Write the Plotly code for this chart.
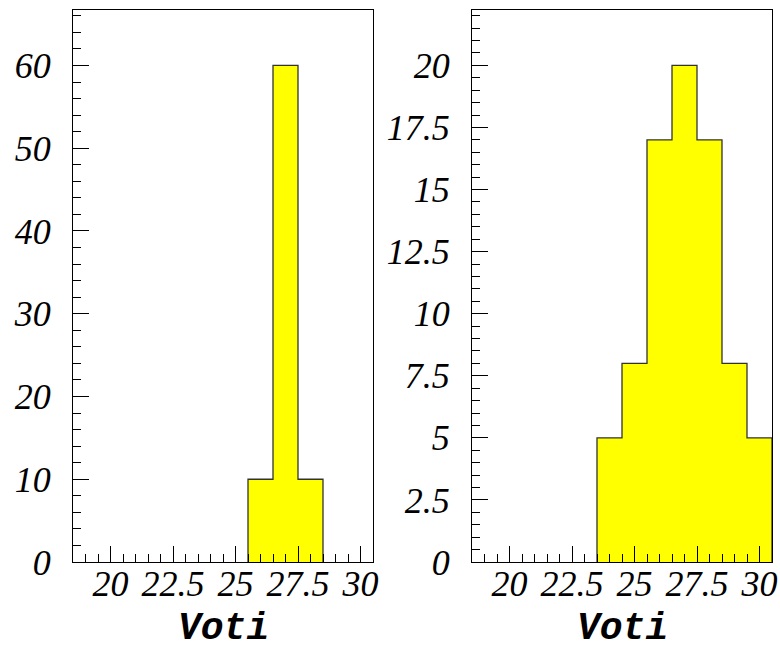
import plotly.graph_objects as go
from plotly.subplots import make_subplots

# Histogram data (bins of width 1)
left_bin_lows = [25.5, 26.5, 27.5]
left_counts = [10, 60, 10]
right_bin_lows = [23.5, 24.5, 25.5, 26.5, 27.5, 28.5, 29.5]
right_counts = [5, 8, 17, 20, 17, 8, 5]
bin_width = 1.0
x_title = "Voti"

W, H = 780, 650

def px_x(p):
    return p / W

def px_y(p):
    return (H - p) / H

fig = make_subplots(rows=1, cols=2)

def step_trace(lows, counts):
    xs = [lows[0]] + list(lows) + [lows[-1] + bin_width]
    ys = [0] + list(counts) + [0]
    return go.Scatter(x=xs, y=ys, mode="lines", line_shape="hv",
                      line=dict(color="#333333", width=1.3),
                      fill="tozeroy", fillcolor="#ffff00",
                      showlegend=False, hoverinfo="skip")

fig.add_trace(step_trace(left_bin_lows, left_counts), row=1, col=1)
fig.add_trace(step_trace(right_bin_lows, right_counts), row=1, col=2)

tickfont = dict(family="Liberation Serif", size=36, color="black", style="italic")
common_axis = dict(showgrid=False, zeroline=False, showline=True, mirror=True,
                   linecolor="black", linewidth=1.2, ticks="inside",
                   tickcolor="black", tickwidth=1.2, ticklen=16,
                   tickfont=tickfont, automargin=False)

fig.update_xaxes(**common_axis, range=[18.5, 30.5], tick0=20, dtick=2.5,
                 ticklabelstandoff=-10,
                 minor=dict(ticks="inside", ticklen=8, dtick=0.5, tick0=20,
                            tickcolor="black", tickwidth=1.2))
fig.update_yaxes(**common_axis, ticklabelstandoff=14)

fig.update_yaxes(range=[0, 66.7], tick0=0, dtick=10,
                 minor=dict(ticks="inside", ticklen=8, dtick=2, tick0=0,
                            tickcolor="black", tickwidth=1.2), row=1, col=1)
fig.update_yaxes(range=[0, 22.23], tick0=0, dtick=2.5,
                 minor=dict(ticks="inside", ticklen=8, dtick=0.5, tick0=0,
                            tickcolor="black", tickwidth=1.2), row=1, col=2)

fig.update_layout(
    width=W, height=H, autosize=False,
    margin=dict(l=0, r=0, t=0, b=0, pad=0),
    paper_bgcolor="white", plot_bgcolor="white",
    xaxis=dict(domain=[px_x(73), px_x(373)]),
    xaxis2=dict(domain=[px_x(472), px_x(772)]),
    yaxis=dict(domain=[px_y(562), px_y(10)]),
    yaxis2=dict(domain=[px_y(562), px_y(10)]),
)

for xc in [px_x((73 + 373) / 2), px_x((472 + 772) / 2)]:
    fig.add_annotation(text="<b><i>" + x_title + "</i></b>", xref="paper", yref="paper",
                       x=xc, y=px_y(628), xanchor="center", yanchor="middle",
                       showarrow=False, borderpad=0,
                       font=dict(family="Liberation Mono", size=38, color="black"))

post = ("document.documentElement.style.margin='0';"
        "document.documentElement.style.overflow='hidden';"
        "document.body.style.margin='0';"
        "document.body.style.padding='0';"
        "document.body.style.overflow='hidden';")

fig.write_html("out.html", post_script=post, config={"displayModeBar": False})
